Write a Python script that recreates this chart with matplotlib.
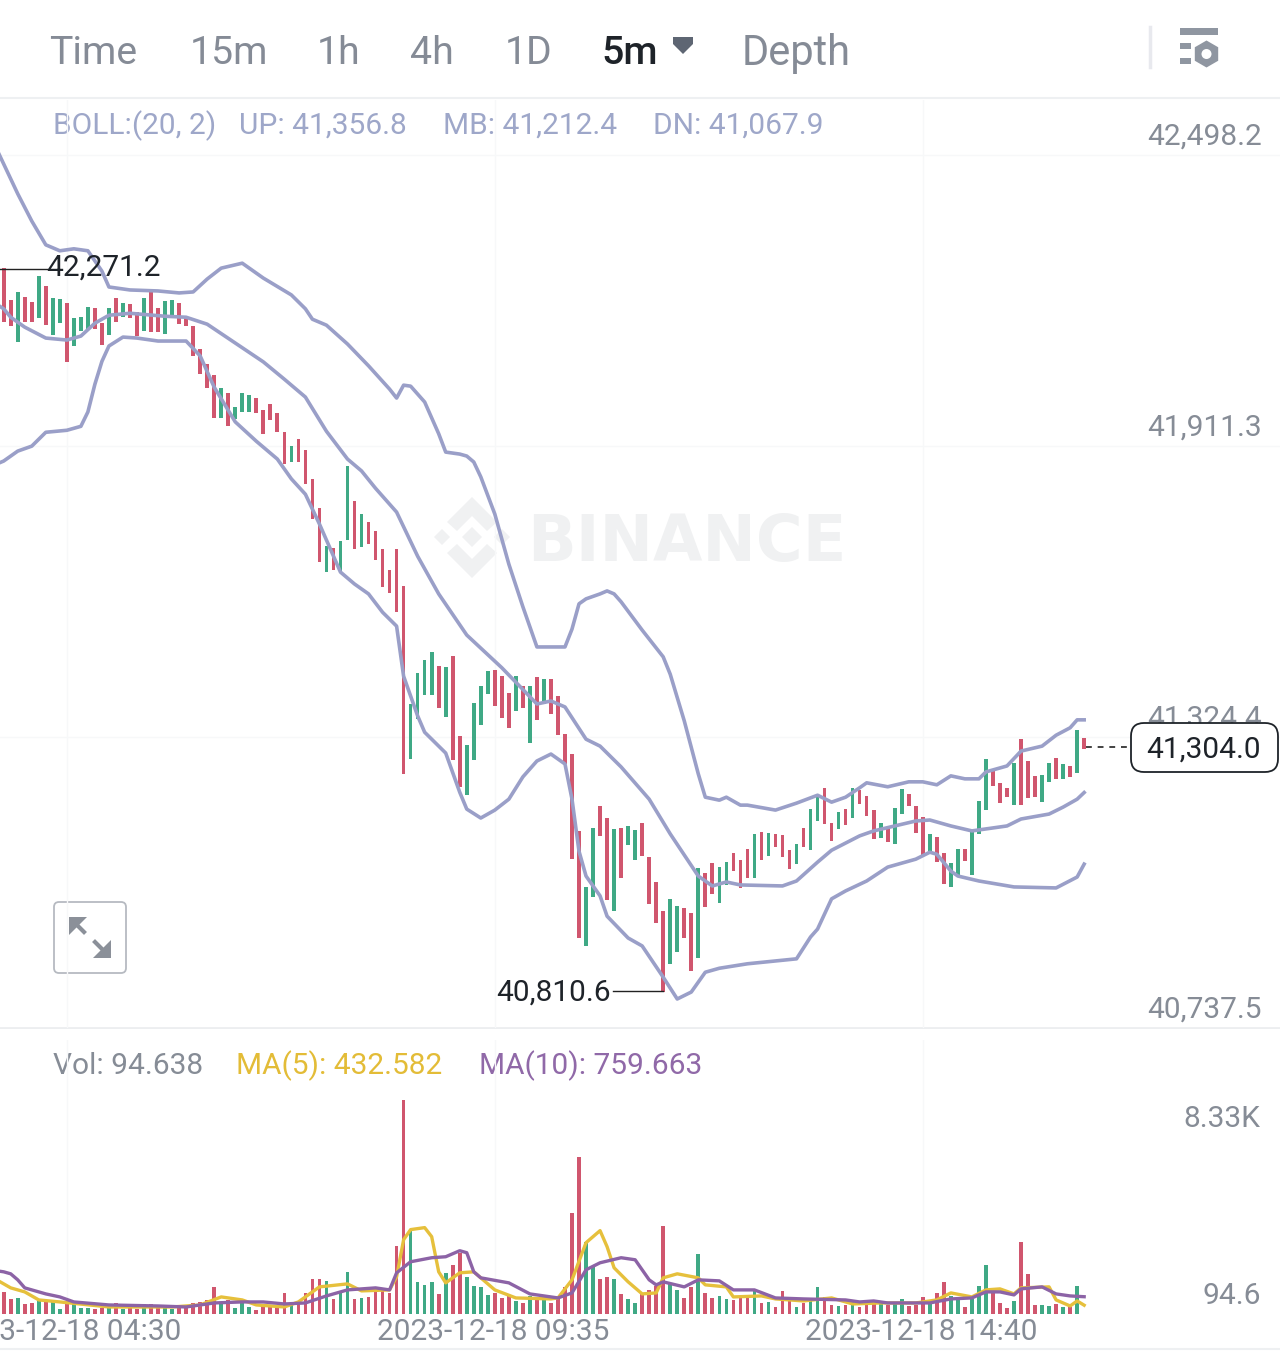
import matplotlib
matplotlib.use("Agg")
import matplotlib.pyplot as plt
from matplotlib.patches import FancyBboxPatch, Polygon, Circle, Rectangle
import numpy as np

plt.rcParams['font.family'] = ['Roboto', 'DejaVu Sans']

highs = [42271.2,42206,42222,42212,42202,42255,42235,42210,42207,42200,
 42170,42171,42192,42190,42159,42190,42210,42200,42197,42181,
 42210,42225,42189,42204,42206,42200,42171,42153,42107,42077,
 42054,42028,42018,41989,42019,42014,42008,41983,41997,41977,
 41940,41912,41925,41904,41845,41786,41709,41705,41720,41871,
 41801,41774,41759,41740,41703,41661,41703,41628,41391,41454,
 41480,41495,41468,41465,41488,41327,41308,41392,41428,41458,
 41460,41448,41413,41447,41427,41427,41446,41441,41441,41407,
 41330,41290,41135,41022,41141,41186,41161,41139,41141,41144,
 41137,41151,41083,41031,40973,40997,40984,40980,40969,41060,
 41050,41070,41063,41072,41091,41077,41099,41129,41133,41130,
 41128,41127,41096,41109,41140,41179,41207,41221,41150,41174,
 41179,41222,41218,41206,41178,41150,41140,41181,41220,41209,
 41185,41163,41128,41123,41090,41070,41098,41099,41132,41196,
 41280,41255,41232,41222,41271,41320,41276,41245,41248,41271,
 41283,41269,41265,41338,41322]
lows = [42162,42154,42122,42161,42162,42170,42155,42136,42159,42080,
 42112,42144,42145,42147,42116,42135,42161,42171,42169,42134,
 42144,42141,42141,42137,42169,42158,42154,42093,42057,42028,
 41967,41967,41952,41966,41980,41979,41978,41936,41964,41940,
 41874,41880,41879,41835,41765,41678,41658,41662,41659,41721,
 41704,41707,41714,41681,41626,41615,41577,41250,41280,41361,
 41409,41409,41382,41365,41278,41223,41207,41278,41349,41411,
 41386,41362,41343,41377,41382,41312,41359,41391,41371,41328,
 41270,41078,40920,40902,41001,41124,40996,40973,41040,41107,
 41076,41084,40988,40950,40810.6,40867,40891,40920,40852,40879,
 40981,41008,40989,41026,41055,41020,41041,41041,41076,41084,
 41103,41082,41058,41068,41103,41097,41154,41149,41114,41139,
 41147,41162,41190,41166,41119,41121,41113,41108,41169,41186,
 41131,41085,41095,41073,41027,41022,41045,41074,41046,41129,
 41177,41226,41192,41203,41188,41187,41201,41203,41194,41233,
 41239,41240,41244,41252,41301]
direction = ("RRGRRGRGGR" "GGGRRGRGRR" "GRRGGRRRRR" "RGRGGGRRRR" "RGRRRRGRGG"
             "RGRRRRRRGG" "GGRGRRGGGG" "RRRGRGRGRR" "RRRGGRRGRG" "GRRRRGGRRG"
             "RRGGRRRGRG" "RRRGRGGRRG" "RGRRRGRGGR" "RRGRRGGRGG" "GRRRGRRRGG"
             "RGRGR")
volumes = [945,675,713,481,520,675,559,636,288,597,
 520,327,327,288,327,365,520,288,327,288,
 481,481,404,404,288,327,327,520,559,636,
 1138,559,636,327,559,365,249,481,365,327,
 906,443,597,906,1448,1448,1370,675,945,1718,
 675,713,752,1061,1022,906,2723,8330,3303,1332,
 1216,1332,868,1680,1989,2453,1525,1177,1138,829,
 906,713,790,597,520,790,713,752,520,675,
 1138,4000,6126,2878,1912,1448,1525,1448,868,675,
 520,868,1022,1177,3497,1254,1022,713,1138,2414,
 906,713,790,675,636,790,829,1061,520,559,
 365,984,675,365,520,713,1138,752,443,404,
 443,597,365,443,559,520,443,481,675,404,
 443,752,559,906,1332,790,636,365,675,1177,
 1989,906,520,327,597,2878,1641,443,443,404,
 481,365,365,1177,94.638]

up_i = [-1,0,2,4,6,8,10,12,14,15,18,22,25,27,29,31,34,37,41,43,44,46,49,52,55,56,57,58,60,62,63,65,66,67,68,70,72,74,76,80,81,82,83,85,86,87,88,91,94,95,97,99,100,102,103,105,106,110,113,116,118,120,122,123,126,129,131,133,135,137,139,140,143,145,148,150,152,153,154]
up_v = [42510,42480,42420,42365,42317,42305,42309,42305,42264,42232,42226,42224,42220,42222,42248,42270,42280,42250,42216,42188,42167,42155,42117,42073,42026,42008,42034,42032,42000,41936,41899,41895,41891,41879,41849,41774,41673,41587,41506,41506,41542,41593,41603,41613,41619,41613,41597,41540,41486,41451,41357,41250,41203,41197,41203,41187,41187,41177,41191,41207,41193,41203,41222,41232,41224,41234,41234,41228,41246,41240,41240,41254,41266,41296,41306,41328,41343,41359,41359]
mb_i = [-1,0,1,3,6,9,11,13,15,18,23,26,29,33,37,40,43,46,49,51,53,56,59,62,66,71,76,78,80,83,85,88,92,95,99,101,103,105,111,113,116,118,122,124,127,130,132,135,138,140,143,145,149,151,153,154]
mb_v = [42197,42188,42171,42151,42129,42125,42133,42159,42175,42179,42173,42171,42157,42119,42081,42046,42010,41941,41885,41861,41826,41778,41689,41613,41530,41464,41391,41397,41385,41320,41306,41264,41199,41129,41044,41024,41032,41026,41024,41034,41072,41096,41125,41135,41145,41155,41157,41145,41135,41139,41145,41159,41169,41183,41199,41212.4]
dn_i = [-1,0,2,4,6,9,11,12,13,14,15,17,19,22,26,28,30,33,36,39,41,43,45,48,50,52,54,56,57,59,60,63,65,66,68,70,72,74,76,78,80,81,82,83,85,86,89,91,94,96,98,100,102,106,113,115,116,118,120,123,126,130,132,133,135,136,139,144,150,153,154]
dn_v = [41875,41881,41901,41911,41939,41943,41951,41980,42036,42082,42113,42131,42129,42123,42123,42093,42030,41960,41921,41885,41845,41814,41754,41657,41633,41613,41576,41548,41447,41367,41334,41292,41213,41179,41161,41177,41199,41244,41276,41290,41270,41199,41094,41044,41004,40963,40919,40903,40840,40796,40810,40850,40858,40867,40877,40921,40937,40998,41014,41034,41062,41078,41092,41088,41054,41044,41034,41022,41020,41042,41068]

ma5_i = [-1,0,1,3,5,8,15,24,28,31,34,36,40,42,45,49,51,55,56,57,58,60,61,62,63,65,67,70,73,78,79,81,83,85,86,87,89,91,93,94,96,99,100,103,104,108,110,114,118,121,125,130,133,135,138,140,142,144,145,149,150,152,153,154]
ma5_v = [1409,1254,1100,945,636,559,365,365,443,752,636,443,365,559,1138,1254,984,1022,1525,2955,3342,3419,3071,1718,1293,1680,1718,1022,713,675,713,1409,2839,3303,2685,1873,1332,868,906,1486,1641,1486,1216,1138,752,790,675,597,713,481,520,520,636,906,752,1022,1061,868,1100,1138,636,404,597,432.582]
ma10_i = [-1,0,1,2,3,6,8,10,15,22,26,30,34,37,40,43,46,49,53,55,56,58,61,63,65,66,67,68,72,75,79,81,83,85,88,90,92,93,94,97,99,102,104,107,110,114,120,122,124,126,132,135,138,140,142,144,145,148,150,152,154]
ma10_v = [1757,1718,1641,1409,1100,868,752,559,443,404,365,520,559,559,481,520,790,1022,1100,1022,1680,2105,2260,2298,2530,2453,1718,1486,1293,868,713,906,1796,2066,2260,2182,1409,1216,1332,1138,1409,1370,1022,1022,713,675,636,559,597,520,520,675,713,945,945,829,1061,1138,868,790,759.663]

price_ticks = [42498.2, 41911.3, 41324.4, 40737.5]
price_labels = ["42,498.2", "41,911.3", "41,324.4", "40,737.5"]
vol_ticks = [8330, 94.6]
vol_labels = ["8.33K", "94.6"]
time_ticks = [9, 70, 131]
time_labels = ["2023-12-18 04:30", "2023-12-18 09:35", "2023-12-18 14:40"]
tabs = ["Time", "15m", "1h", "4h", "1D", "5m", "Depth"]

W, H = 1280, 1355
RED, GREEN = "#d0566e", "#3fa985"
BAND = "#9a9fc8"
GRID = "#f7f8f9"
GRAY = "#868c96"
bar_colors = [RED if d == "R" else GREEN for d in direction]
xs = np.arange(len(highs))

fig = plt.figure(figsize=(W/100, H/100), dpi=100, facecolor="white")

def pane(top, bottom, z):
    a = fig.add_axes([0, 1-bottom/H, 1, (bottom-top)/H], zorder=z)
    a.patch.set_alpha(0)
    for s in a.spines.values():
        s.set_visible(False)
    a.tick_params(length=0, labelbottom=False, labelleft=False)
    a.set_xlim((0-3.7)/7.016, (W-3.7)/7.016)
    return a

ui = fig.add_axes([0, 0, 1, 1], zorder=0)
ui.set_xlim(0, W); ui.set_ylim(H, 0); ui.axis("off")
top = fig.add_axes([0, 0, 1, 1], zorder=5)
top.set_xlim(0, W); top.set_ylim(H, 0); top.axis("off"); top.patch.set_alpha(0)

# watermark
wm = "#f0f1f2"
def dia(cx, cy, r):
    ui.add_patch(Polygon([(cx-r, cy), (cx, cy-r), (cx+r, cy), (cx, cy+r)], closed=True, fc=wm, ec="none"))
dia(472, 537, 10); dia(442, 537, 8); dia(502, 537, 8)
ui.add_patch(Polygon([(472,497),(497,522),(487,531),(472,516),(457,531),(447,522)], closed=True, fc=wm, ec="none"))
ui.add_patch(Polygon([(472,578),(497,553),(487,544),(472,559),(457,544),(447,553)], closed=True, fc=wm, ec="none"))
ui.text(527, 543, "BINANCE", fontsize=46, fontweight="bold", color=wm, va="center", ha="left", family="DejaVu Sans")

# price pane
ax = pane(100, 1028, 1)
scale = (price_ticks[0]-price_ticks[3])/(1028-155)
ax.set_ylim(price_ticks[3], price_ticks[0]+(155-100)*scale)
ax.set_yticks(price_ticks)
ax.set_xticks(time_ticks)
ax.set_xticklabels([])
ax.grid(True, color=GRID, lw=1)
ax.set_axisbelow(True)
ax.bar(xs, np.array(highs)-np.array(lows), bottom=lows, width=0.52, color=bar_colors, zorder=2)
for ii, vv in ((up_i, up_v), (mb_i, mb_v), (dn_i, dn_v)):
    ax.plot(ii, vv, color=BAND, lw=2.6, zorder=3, solid_joinstyle="round")
for v, lab in zip(price_ticks, price_labels):
    ax.annotate(lab, xy=(1, v), xycoords=("axes fraction", "data"), xytext=(-13.2, 13.2),
                textcoords="offset points", ha="right", va="center", fontsize=21.5, color=GRAY, zorder=4)

# volume pane
vax = pane(1040, 1314, 1)
vscale = (vol_ticks[0]-vol_ticks[1])/(1314-1100)
vax.set_ylim(vol_ticks[1], vol_ticks[1]+(1314-1040)*vscale)
vax.set_xticks(time_ticks)
vax.set_xticklabels([])
vax.set_yticks([])
vax.grid(True, axis="x", color=GRID, lw=1)
vax.set_axisbelow(True)
vax.bar(xs, np.array(volumes)-vol_ticks[1], bottom=vol_ticks[1], width=0.52, color=bar_colors, zorder=2)
vax.plot(ma5_i, ma5_v, color="#e6c03c", lw=2.4, zorder=3)
vax.plot(ma10_i, ma10_v, color="#8c63a6", lw=2.4, zorder=4)
vax.annotate(vol_labels[0], xy=(1, vol_ticks[0]), xycoords=("axes fraction", "data"), xytext=(-14, -13.4),
             textcoords="offset points", ha="right", va="center", fontsize=21.5, color=GRAY)
vax.annotate(vol_labels[1], xy=(1, vol_ticks[1]), xycoords=("axes fraction", "data"), xytext=(-14, 13),
             textcoords="offset points", ha="right", va="center", fontsize=21.5, color=GRAY)
for t, lab in zip(time_ticks, time_labels):
    vax.annotate(lab, xy=(t, 0), xycoords=("data", "axes fraction"), xytext=(-1.4, -12.9),
                 textcoords="offset points", ha="center", va="center", fontsize=21.5, color=GRAY, annotation_clip=False)

# separators
ui.plot([0, W], [98, 98], color="#eef0f2", lw=1.5)
ui.plot([0, W], [1028, 1028], color="#e9ebee", lw=1.2)
ui.plot([0, W], [1349, 1349], color="#eef0f2", lw=1.5)
ui.plot([1150, 1150], [27, 67], color="#e8e9ee", lw=2.5)

# header tabs
tab_x = [49, 190, 317, 410, 505, 601, 742]
tab_sz = [28.3, 28.3, 28.3, 28.3, 28.3, 28.3, 30]
for tx, lab, sz in zip(tab_x, tabs, tab_sz):
    act = lab == "5m"
    ui.text(tx, 53, lab, fontsize=sz, color="#1e2329" if act else "#858b96",
            fontweight="medium" if act else "normal", va="center", ha="left")
ui.add_patch(Polygon([(673,37),(693,37),(693,44),(683,54),(673,44)], closed=True, fc="#5e6673", ec="none"))

# settings icon
ic = "#8f96a1"
ui.add_patch(Rectangle((1180, 28), 38, 7, fc=ic, ec="none"))
ui.add_patch(Rectangle((1180, 43), 11, 6, fc=ic, ec="none"))
ui.add_patch(Rectangle((1180, 58), 11, 6, fc=ic, ec="none"))
ang = np.deg2rad(np.arange(30, 390, 60))
ui.add_patch(Polygon(np.c_[1206.5+13.5*np.cos(ang), 54+13.5*np.sin(ang)], closed=True, fc=ic, ec="none"))
ui.add_patch(Circle((1206.5, 54), 5, fc="white", ec="none"))

# legend lines
for tx, lab in zip([53, 239, 443, 653], ["BOLL:(20, 2)", "UP: 41,356.8", "MB: 41,212.4", "DN: 41,067.9"]):
    ui.text(tx, 126, lab, fontsize=21.5, color="#9ea7c9", va="center", ha="left")
for tx, lab, c in zip([53, 236, 479], ["Vol: 94.638", "MA(5): 432.582", "MA(10): 759.663"], [GRAY, "#e3bc37", "#9069a8"]):
    ui.text(tx, 1066, lab, fontsize=21.5, color=c, va="center", ha="left")

# high / low tags
top.plot([0, 47], [269, 269], color="#222", lw=1)
top.text(46, 268, "42,271.2", fontsize=21.5, color="#1e2329", va="center", ha="left")
top.plot([613, 663], [991, 991], color="#222", lw=1)
top.text(496, 993, "40,810.6", fontsize=21.5, color="#1e2329", va="center", ha="left")

# last price
top.plot([1086, 1130], [747, 747], color="#222", lw=1.2, ls=(0, (3.5, 3.5)))
top.add_patch(FancyBboxPatch((1131, 723), 147, 49, boxstyle="round,pad=0,rounding_size=13",
                             fc="white", ec="#1e2329", lw=1.3))
top.text(1261, 750, "41,304.0", fontsize=21.5, color="#1e2329", va="center", ha="right")

# expand icon
ui.add_patch(FancyBboxPatch((54, 902), 72, 71, boxstyle="round,pad=0,rounding_size=5", fc="white", ec="#b6bac1", lw=1.3))
c = "#8b9099"
ui.plot([75, 84], [923, 932], color=c, lw=3)
ui.plot([95, 105], [942, 952], color=c, lw=3)
ui.add_patch(Polygon([(69,917),(87,917),(69,935)], closed=True, fc=c, ec="none"))
ui.add_patch(Polygon([(111,958),(93,958),(111,940)], closed=True, fc=c, ec="none"))

fig.savefig("out.png", dpi=100, facecolor="white")
